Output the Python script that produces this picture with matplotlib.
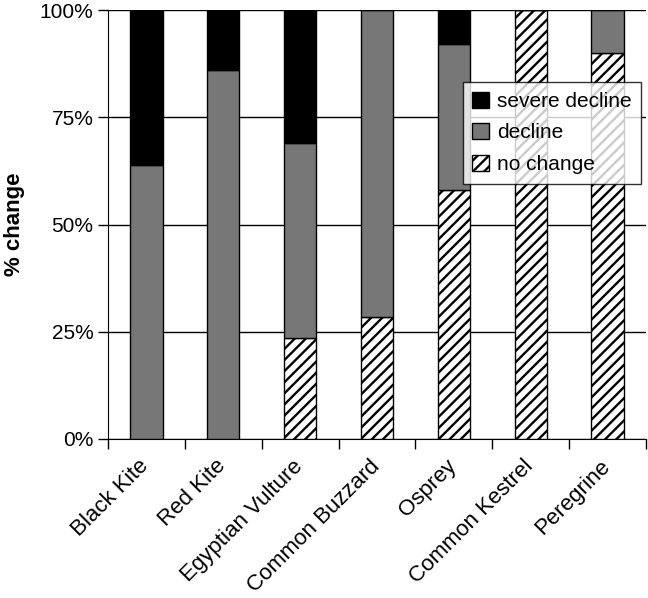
import numpy as np
import matplotlib.pyplot as plt
import matplotlib as mpl
import matplotlib.transforms as mtrans

plt.rcParams['font.family'] = ['Liberation Sans', 'DejaVu Sans']
mpl.rcParams['hatch.linewidth'] = 1.7

species = ['Black Kite', 'Red Kite', 'Egyptian Vulture', 'Common Buzzard',
           'Osprey', 'Common Kestrel', 'Peregrine']
no_change = [0, 0, 23.5, 28.5, 58, 100, 90]
decline = [64, 86, 45.5, 71.5, 34, 0, 10]
severe = [36, 14, 31, 0, 8, 0, 0]

no_change = np.array(no_change)
decline = np.array(decline)
severe = np.array(severe)

fig = plt.figure(figsize=(6.48, 5.98), dpi=100)
ax = fig.add_axes([0.1667, 0.266, 0.8303, 0.717])

x = np.arange(len(species))
w = 0.42
ax.bar(x, no_change, w, color='white', edgecolor='black', hatch='///', lw=1, label='no change', zorder=3)
ax.bar(x, decline, w, bottom=no_change, color='#777777', edgecolor='black', lw=1, label='decline', zorder=3)
ax.bar(x, severe, w, bottom=no_change + decline, color='black', edgecolor='black', lw=1, label='severe decline', zorder=3)

ax.set_xlim(-0.5, len(species) - 0.5)
ax.set_ylim(0, 100)
ax.set_yticks([0, 25, 50, 75, 100])
ax.set_yticklabels(['0%', '25%', '50%', '75%', '100%'])
ax.yaxis.grid(True, color='black', lw=1, zorder=0)
ax.set_xticks(np.arange(len(species) + 1) - 0.5)
ax.set_xticklabels([])
ax.set_xticks(x, minor=True)
ax.set_xticklabels(species, minor=True, rotation=45, ha='right', va='top',
                   rotation_mode='anchor', fontsize=16)
ax.tick_params(axis='x', which='minor', length=0, pad=12)
ax.tick_params(axis='x', which='major', length=7, width=1)
ax.tick_params(axis='y', length=7, width=1, labelsize=15)
shift = mtrans.ScaledTranslation(-8 / 100, 0, fig.dpi_scale_trans)
for lab in ax.get_xticklabels(minor=True):
    lab.set_transform(lab.get_transform() + shift)
for s in ['top', 'right']:
    ax.spines[s].set_visible(False)
ax.set_ylabel('% change', fontsize=16, fontweight='bold')
ax.yaxis.set_label_coords(-0.155, 0.5)

h, l = ax.get_legend_handles_labels()
leg = ax.legend(h[::-1], l[::-1], loc='upper left', bbox_to_anchor=(0.659, 0.832),
                fontsize=15, frameon=True, fancybox=False, edgecolor='black',
                handlelength=0.8, handleheight=0.8, handletextpad=0.4,
                labelspacing=0.6, borderpad=0.45, borderaxespad=0)
leg.get_frame().set_linewidth(1)

fig.savefig('out.png', dpi=100)
